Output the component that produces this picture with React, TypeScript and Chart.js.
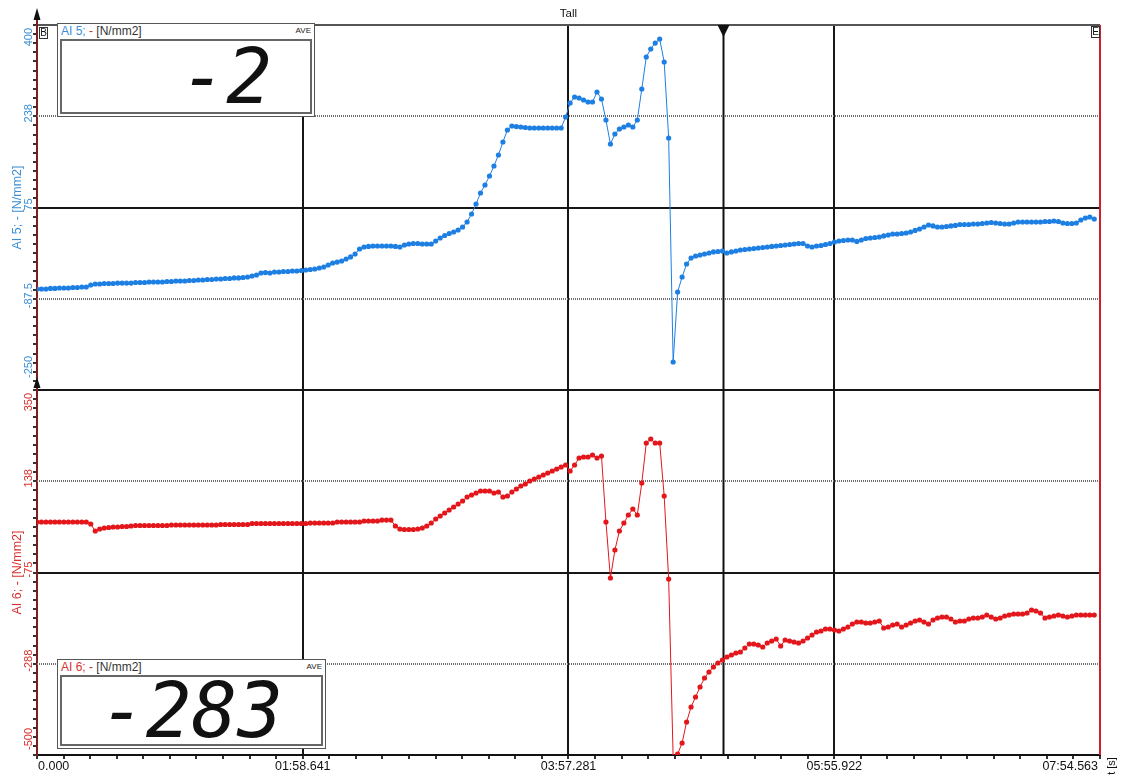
import React, { useEffect, useRef } from 'react';
import { Chart, registerables } from 'chart.js';

Chart.register(...registerables);

const FONT = '"Liberation Sans", Arial, sans-serif';

// ---- data ----
const SAMPLE_PERIOD_S = 2;
const X_MAX = 474.563;
const X_MAJOR_TICKS = [0, 118.641, 237.281, 355.922, 474.563];
const X_TICK_LABELS = ['0.000', '01:58.641', '03:57.281', '05:55.922', '07:54.563'];
const TOP_MAJOR_TICKS = [400, 237.5, 75, -87.5, -250];
const TOP_TICK_LABELS = ['400', '238', '75', '-87.5', '-250'];
const BOTTOM_MAJOR_TICKS = [350, 137.5, -75, -287.5, -500];
const BOTTOM_TICK_LABELS = ['350', '138', '-75', '-288', '-500'];
const CURSOR_T = 306.3;
const TOP_TITLE = 'AI 5; - [N/mm2]';
const BOTTOM_TITLE = 'AI 6; - [N/mm2]';
const AI5_DISPLAY = '-2';
const AI6_DISPLAY = '-283';

const AI5_VALUES = [
  -70.1, -70.1, -70.1, -69.2, -69.2, -68.4, -68.4, -68.4, -67.5, -67.5,
  -66.6, -66.6, -63.0, -61.2, -61.2, -60.3, -60.3, -60.3, -59.5, -59.5,
  -59.5, -59.5, -58.6, -58.6, -58.6, -57.7, -57.7, -57.7, -57.7, -56.8,
  -56.8, -55.9, -55.9, -55.9, -55.0, -55.0, -54.1, -54.1, -53.2, -53.2,
  -52.3, -52.3, -51.4, -51.4, -50.5, -50.5, -49.7, -48.8, -47.0, -45.2,
  -41.6, -40.8, -41.6, -39.9, -39.9, -39.0, -39.0, -38.1, -38.1, -37.2,
  -36.3, -35.4, -34.5, -32.7, -31.0, -27.4, -23.8, -22.1, -20.3, -16.7,
  -13.1, -7.8, 1.1, 4.7, 5.6, 6.4, 6.4, 6.4, 6.4, 6.4,
  5.6, 4.7, 8.2, 10.0, 10.9, 10.9, 10.0, 10.0, 10.0, 15.3,
  20.7, 25.1, 28.7, 31.4, 34.9, 40.3, 49.2, 63.4, 81.2, 100.8,
  115.1, 131.1, 148.9, 168.5, 191.6, 213.0, 220.1, 219.2, 218.4, 217.5,
  216.6, 216.6, 216.6, 216.6, 216.6, 216.6, 216.6, 216.6, 236.2, 261.1,
  271.8, 270.0, 266.4, 262.9, 262.9, 280.7, 268.2, 230.8, 188.1, 205.9,
  214.8, 218.4, 221.9, 218.4, 230.8, 286.0, 343.0, 357.3, 367.9, 375.1,
  334.1, 198.8, -200.1, -75.5, -48.8, -25.6, -14.9, -11.4, -9.6, -7.8,
  -6.0, -4.2, -3.4, -2.5, -6.0, -4.2, -2.5, -0.7, 0.2, 1.1,
  2.0, 2.9, 3.8, 4.7, 5.6, 6.4, 7.3, 8.2, 9.1, 10.0,
  10.9, 10.9, 6.4, 4.7, 6.4, 7.3, 9.1, 10.9, 13.6, 15.3,
  16.2, 17.1, 17.1, 14.5, 17.1, 19.8, 20.7, 21.6, 22.5, 24.3,
  26.0, 27.8, 27.8, 28.7, 29.6, 31.4, 34.1, 36.7, 40.3, 43.8,
  42.1, 40.3, 40.3, 41.2, 42.1, 43.0, 44.7, 44.7, 44.7, 45.6,
  45.6, 46.5, 47.4, 48.3, 47.4, 46.5, 45.6, 45.6, 47.4, 49.2,
  49.2, 49.2, 49.2, 49.2, 49.2, 50.1, 50.1, 51.0, 50.1, 47.4,
  46.5, 46.5, 47.4, 52.7, 56.3, 58.1, 54.5,
];

const AI6_VALUES = [
  42.6, 42.6, 42.6, 42.6, 42.6, 42.6, 42.6, 42.6, 42.6, 42.6,
  42.6, 42.6, 37.9, 21.6, 26.3, 28.6, 29.8, 31.0, 31.0, 32.1,
  32.1, 33.3, 34.5, 34.5, 34.5, 34.5, 34.5, 34.5, 34.5, 34.5,
  35.6, 35.6, 35.6, 35.6, 35.6, 35.6, 35.6, 35.6, 35.6, 35.6,
  35.6, 36.8, 36.8, 36.8, 36.8, 36.8, 36.8, 36.8, 39.1, 39.1,
  39.1, 39.1, 39.1, 39.1, 39.1, 39.1, 39.1, 39.1, 39.1, 39.1,
  39.1, 40.3, 40.3, 40.3, 40.3, 40.3, 40.3, 42.6, 42.6, 42.6,
  42.6, 42.6, 42.6, 44.9, 44.9, 44.9, 44.9, 47.2, 47.2, 47.2,
  33.3, 26.3, 25.1, 25.1, 25.1, 26.3, 28.6, 33.3, 40.3, 49.6,
  56.6, 63.6, 70.5, 77.5, 84.5, 91.5, 100.8, 105.5, 110.1, 114.8,
  114.8, 114.8, 110.1, 112.5, 100.8, 103.1, 112.5, 119.5, 126.4, 131.1,
  138.1, 142.7, 147.4, 152.1, 156.7, 161.4, 166.0, 170.7, 175.3, 161.4,
  175.3, 191.6, 194.0, 194.0, 198.6, 191.6, 196.3, 42.6, -87.8, -22.6,
  21.6, 40.3, 58.9, 72.9, 58.9, 133.4, 226.6, 235.9, 226.6, 226.6,
  103.1, -90.1, -505, -498, -472.1, -423.2, -388.2, -364.9, -341.6, -320.7,
  -306.7, -295.1, -285.8, -278.8, -271.8, -267.1, -262.5, -260.1, -250.8, -241.5,
  -241.5, -243.8, -248.5, -239.2, -234.5, -229.9, -246.2, -232.2, -234.5, -236.8,
  -239.2, -234.5, -227.5, -220.5, -213.6, -211.2, -206.6, -206.6, -208.9, -211.2,
  -206.6, -201.9, -194.9, -190.3, -190.3, -192.6, -192.6, -190.3, -187.9, -204.2,
  -201.9, -197.3, -194.9, -201.9, -197.3, -192.6, -187.9, -185.6, -190.3, -194.9,
  -185.6, -181.0, -178.6, -178.6, -183.3, -190.3, -187.9, -187.9, -183.3, -181.0,
  -181.0, -178.6, -174.0, -178.6, -183.3, -181.0, -176.3, -174.0, -171.6, -171.6,
  -171.6, -169.3, -162.3, -164.7, -169.3, -181.0, -178.6, -176.3, -174.0, -176.3,
  -178.6, -176.3, -174.0, -174.0, -174.0, -174.0, -174.0,
];

// ---- styles ----
const BLUE = '#1e7fe3';
const BLUE_TEXT = '#3b8ed6';
const RED = '#e3161b';
const RED_TEXT = '#d8302e';
const AXIS_RED = '#7d1f1f';

function subdivide(majors: number[], parts: number): number[] {
  const asc = [...majors].sort((a, b) => a - b);
  const out: number[] = [];
  for (let k = 0; k < asc.length - 1; k++) {
    const step = (asc[k + 1] - asc[k]) / parts;
    for (let j = 0; j < parts; j++) out.push(asc[k] + step * j);
  }
  out.push(asc[asc.length - 1]);
  return out;
}

const X_TICKS_ALL = subdivide(X_MAJOR_TICKS, 10);
const TOP_TICKS_ALL = subdivide(TOP_MAJOR_TICKS, 10);
const BOTTOM_TICKS_ALL = subdivide(BOTTOM_MAJOR_TICKS, 10);

function drawRotated(ctx: CanvasRenderingContext2D, text: string, x: number, y: number, align: CanvasTextAlign, color: string, font: string) {
  ctx.save();
  ctx.translate(x, y);
  ctx.rotate(-Math.PI / 2);
  ctx.textAlign = align;
  ctx.textBaseline = 'middle';
  ctx.fillStyle = color;
  ctx.font = font;
  ctx.fillText(text, 0, 0);
  ctx.restore();
}

function line(ctx: CanvasRenderingContext2D, x1: number, y1: number, x2: number, y2: number) {
  ctx.beginPath();
  ctx.moveTo(x1, y1);
  ctx.lineTo(x2, y2);
  ctx.stroke();
}

const decorPlugin = {
  id: 'decor',
  beforeDatasetsDraw(chart: any) {
    const { ctx, chartArea: a, scales } = chart;
    ctx.save();
    // dotted grid lines
    ctx.strokeStyle = '#707070';
    ctx.lineWidth = 2;
    ctx.setLineDash([1, 1]);
    const dotted: [string, number[]][] = [['yTop', TOP_MAJOR_TICKS], ['yBottom', BOTTOM_MAJOR_TICKS]];
    for (const [id, majors] of dotted) {
      const s = scales[id];
      for (const v of [majors[1], majors[3]]) {
        const y = Math.round(s.getPixelForValue(v));
        line(ctx, a.left, y, a.right, y);
      }
    }
    ctx.setLineDash([]);
    // cursor
    const cx = Math.round(scales.x.getPixelForValue(CURSOR_T)) + 0.5;
    ctx.strokeStyle = '#111';
    ctx.lineWidth = 2;
    line(ctx, cx, a.top, cx, a.bottom);
    ctx.restore();
  },
  afterDraw(chart: any) {
    const { ctx, chartArea: a, scales } = chart;
    ctx.save();
    const font11 = `11px ${FONT}`;
    const font12 = `12.5px ${FONT}`;

    // title
    ctx.fillStyle = '#111';
    ctx.font = `11.5px ${FONT}`;
    ctx.textAlign = 'center';
    ctx.textBaseline = 'middle';
    ctx.fillText('Tall', (a.left + a.right) / 2, a.top - 11);

    // right red line
    ctx.strokeStyle = '#cf1f2c';
    ctx.lineWidth = 2;
    line(ctx, a.right, a.top, a.right, a.bottom);

    // left axis extension + arrows
    ctx.strokeStyle = AXIS_RED;
    ctx.lineWidth = 2;
    line(ctx, a.left, a.top - 12, a.left, a.top);
    ctx.fillStyle = '#111';
    const arrow = (x: number, tipY: number, baseY: number) => {
      ctx.beginPath();
      ctx.moveTo(x, tipY);
      ctx.lineTo(x - 3.5, baseY);
      ctx.lineTo(x + 3.5, baseY);
      ctx.closePath();
      ctx.fill();
    };
    arrow(a.left, a.top - 17, a.top - 5);
    arrow(a.left, scales.yBottom.top - 13, scales.yBottom.top - 2);

    // cursor triangle
    const cx = Math.round(scales.x.getPixelForValue(CURSOR_T)) + 0.5;
    ctx.beginPath();
    ctx.moveTo(cx - 6, a.top);
    ctx.lineTo(cx + 6, a.top);
    ctx.lineTo(cx, a.top + 12);
    ctx.closePath();
    ctx.fill();

    // B / E markers
    const marker = (txt: string, x: number, y: number) => {
      ctx.fillStyle = '#fff';
      ctx.fillRect(x, y, 8, 11);
      ctx.strokeStyle = '#333';
      ctx.lineWidth = 1;
      ctx.strokeRect(x + 0.5, y + 0.5, 8, 11);
      ctx.fillStyle = '#111';
      ctx.font = `10px ${FONT}`;
      ctx.textAlign = 'center';
      ctx.textBaseline = 'middle';
      ctx.fillText(txt, x + 4.5, y + 6.5);
    };
    marker('B', a.left + 2, a.top + 2);
    marker('E', a.right - 9, a.top + 1);

    // y labels and titles
    const panels = [
      { id: 'yTop', majors: TOP_MAJOR_TICKS, labels: TOP_TICK_LABELS, color: BLUE_TEXT, title: TOP_TITLE, endGap: 12 },
      { id: 'yBottom', majors: BOTTOM_MAJOR_TICKS, labels: BOTTOM_TICK_LABELS, color: RED_TEXT, title: BOTTOM_TITLE, endGap: 5 },
    ];
    for (const p of panels) {
      const s = scales[p.id];
      const lx = a.left - 8;
      p.majors.forEach((v, k) => {
        const py = s.getPixelForValue(v);
        if (k === 0) drawRotated(ctx, p.labels[k], lx, py + 3, 'right', p.color, font11);
        else if (k === p.majors.length - 1) drawRotated(ctx, p.labels[k], lx, py - p.endGap, 'left', p.color, font11);
        else drawRotated(ctx, p.labels[k], lx, py - 3, 'center', p.color, font11);
      });
      drawRotated(ctx, p.title, a.left - 19, (s.top + s.bottom) / 2, 'center', p.color, font12);
    }

    // x labels
    ctx.fillStyle = '#111';
    ctx.font = font12;
    ctx.textBaseline = 'middle';
    X_MAJOR_TICKS.forEach((v, k) => {
      const px = scales.x.getPixelForValue(v);
      if (k === 0) { ctx.textAlign = 'left'; ctx.fillText(X_TICK_LABELS[k], px + 1, a.bottom + 12); }
      else if (k === X_MAJOR_TICKS.length - 1) { ctx.textAlign = 'right'; ctx.fillText(X_TICK_LABELS[k], px - 2, a.bottom + 12); }
      else { ctx.textAlign = 'center'; ctx.fillText(X_TICK_LABELS[k], px, a.bottom + 12); }
    });
    drawRotated(ctx, 't [s]', a.right + 12, a.bottom + 11, 'center', '#111', font11);
    ctx.restore();
  },
};

function yScale(ticks: number[], min: number, max: number, weight: number, edgeTopColor: string) {
  return {
    type: 'linear',
    position: 'left',
    stack: 'panels',
    stackWeight: 1,
    weight,
    min,
    max,
    afterBuildTicks: (s: any) => { s.ticks = ticks.map((v) => ({ value: v })); },
    afterFit: (s: any) => { s.width = 37; },
    ticks: { display: false },
    grid: {
      drawTicks: true,
      tickLength: 4,
      tickColor: '#333',
      lineWidth: 2,
      color: (c: any) => {
        const i = c.index;
        if (i === ticks.length - 1) return edgeTopColor;
        if (i % 20 === 0) return '#161616';
        return 'rgba(0,0,0,0)';
      },
    },
    border: { color: AXIS_RED, width: 2 },
  };
}

function Display({ box, name, color, value }: { box: number[]; name: string; color: string; value: string }) {
  return (
    <div style={{ position: 'absolute', left: box[0], top: box[1], width: box[2], height: box[3], background: '#fff', border: '1.5px solid #555', boxSizing: 'border-box' }}>
      <div style={{ position: 'absolute', left: 3, top: 0, font: `12px ${FONT}`, whiteSpace: 'nowrap' }}>
        <span style={{ color }}>{name}</span>
        <span style={{ color: '#b83030' }}> - </span>
        <span style={{ color: '#333' }}>[N/mm2]</span>
      </div>
      <div style={{ position: 'absolute', right: 3, top: 2, font: `8px ${FONT}`, color: '#222' }}>AVE</div>
      <div style={{ position: 'absolute', left: 2, right: 2, top: 15, bottom: 2, border: '2px solid #666', boxSizing: 'border-box', display: 'flex', alignItems: 'center', justifyContent: 'flex-end', paddingRight: 38, overflow: 'hidden' }}>
        <span style={{ font: `italic 76px "DejaVu Sans Mono", monospace`, lineHeight: 1, color: '#111', whiteSpace: 'pre' }}>{value}</span>
      </div>
    </div>
  );
}

export default function App() {
  const canvasRef = useRef<HTMLCanvasElement | null>(null);

  useEffect(() => {
    if (!canvasRef.current) return;
    const chart = new Chart(canvasRef.current, {
      type: 'line',
      data: {
        datasets: [
          {
            label: 'AI 5',
            data: AI5_VALUES.map((y, i) => ({ x: i * SAMPLE_PERIOD_S, y })),
            yAxisID: 'yTop',
            xAxisID: 'x',
            borderColor: BLUE,
            backgroundColor: BLUE,
            borderWidth: 1,
            pointRadius: 2.6,
            pointBorderWidth: 0,
            pointBackgroundColor: BLUE,
            tension: 0,
          },
          {
            label: 'AI 6',
            data: AI6_VALUES.map((y, i) => ({ x: i * SAMPLE_PERIOD_S, y })),
            yAxisID: 'yBottom',
            xAxisID: 'x',
            borderColor: RED,
            backgroundColor: RED,
            borderWidth: 1,
            pointRadius: 2.6,
            pointBorderWidth: 0,
            pointBackgroundColor: RED,
            tension: 0,
          },
        ],
      },
      options: {
        responsive: false,
        animation: false,
        devicePixelRatio: 1,
        layout: { padding: { top: 25, right: 25, left: 0, bottom: 0 } },
        plugins: { legend: { display: false }, tooltip: { enabled: false }, title: { display: false } },
        scales: {
          x: {
            type: 'linear',
            position: 'bottom',
            min: 0,
            max: X_MAX,
            afterBuildTicks: (s: any) => { s.ticks = X_TICKS_ALL.map((v) => ({ value: v })); },
            afterFit: (s: any) => { s.height = 21; },
            ticks: { display: false },
            grid: {
              drawTicks: true,
              tickLength: 4,
              tickColor: '#333',
              lineWidth: 2,
              color: (c: any) => {
                const i = c.index;
                if (i === 0 || i === X_TICKS_ALL.length - 1) return 'rgba(0,0,0,0)';
                return i % 10 === 0 ? '#161616' : 'rgba(0,0,0,0)';
              },
            },
            border: { color: '#111', width: 2 },
          },
          yTop: yScale(TOP_TICKS_ALL, -250, 400, 2, '#555'),
          yBottom: yScale(BOTTOM_TICKS_ALL, -500, 350, 1, '#161616'),
        } as any,
      },
      plugins: [decorPlugin as any],
    } as any);
    return () => chart.destroy();
  }, []);

  return (
    <div style={{ position: 'fixed', left: 0, top: 0, width: 1125, height: 776, background: '#fff', overflow: 'hidden' }}>
      <canvas ref={canvasRef} width={1125} height={776} style={{ position: 'absolute', left: 0, top: 0, width: 1125, height: 776 }} />
      <Display box={[57, 23, 258, 94]} name="AI 5;" color={BLUE_TEXT} value={AI5_DISPLAY} />
      <Display box={[57, 659, 269, 90]} name="AI 6;" color={RED_TEXT} value={AI6_DISPLAY} />
    </div>
  );
}
